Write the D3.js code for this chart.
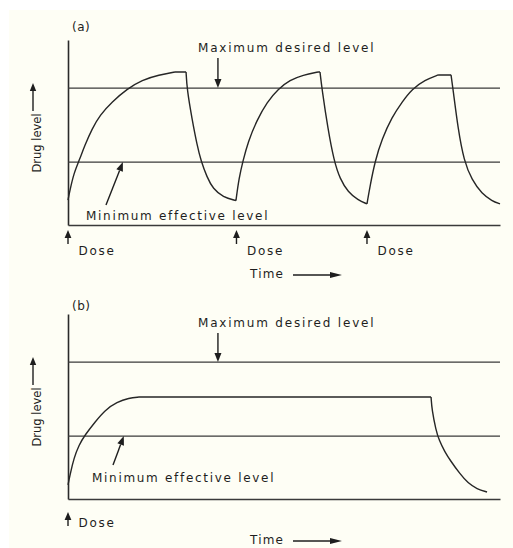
<!DOCTYPE html>
<html>
<head>
<meta charset="utf-8">
<script src="https://cdn.jsdelivr.net/npm/d3@7"></script>
<style>
  html, body { margin: 0; padding: 0; background: #fff; }
  svg { display: block; }
  text { font-family: "DejaVu Sans", Verdana, sans-serif; fill: #1e1e1e; }
</style>
</head>
<body>
<svg id="chart" width="513" height="548"></svg>
<script>
/* Drug level vs time: (a) repeated doses, (b) sustained release */

// levels (arbitrary units) of the two reference lines
var LEVEL_MIN = 3.4, LEVEL_MAX = 7.4;

// (a) three doses, [time h, level]
var dosesA = [0, 9.36, 16.61];
var curveA = [
  [0, 1.35], [0.11, 1.89], [0.33, 2.81], [0.61, 3.46], [0.94, 4.32], [1.33, 5.19],
  [1.78, 5.95], [2.44, 6.65], [3.28, 7.35], [4.11, 7.84], [5.06, 8.11], [5.94, 8.27], [6.56, 8.27],
  [6.61, 7.35], [6.89, 5.73], [7.17, 4.32], [7.39, 3.46], [7.72, 2.59], [8.06, 1.95], [8.61, 1.51], [9.33, 1.32],
  [9.5, 2.54], [9.72, 3.46], [10.0, 4.49], [10.5, 5.68], [11.06, 6.65], [11.67, 7.35], [12.33, 7.84],
  [13.06, 8.11], [13.89, 8.27], [14.0, 8.27],
  [14.11, 7.35], [14.44, 5.19], [14.78, 3.46], [15.11, 2.49], [15.56, 1.78], [16.11, 1.35], [16.61, 1.14],
  [16.78, 2.11], [17.06, 3.46], [17.44, 4.65], [18.0, 5.84], [18.56, 6.65], [19.11, 7.35], [19.83, 7.84],
  [20.56, 8.11], [21.28, 8.11],
  [21.39, 7.35], [21.67, 5.19], [22.0, 3.46], [22.44, 2.43], [23.0, 1.68], [23.56, 1.3], [24.0, 1.14]
];

// (b) one sustained-release dose
var dosesB = [0];
var curveB = [
  [0, 0.76], [0.11, 1.3], [0.33, 2.22], [0.61, 2.92], [0.94, 3.46], [1.5, 4.16], [2.06, 4.81],
  [2.72, 5.24], [3.39, 5.46], [3.94, 5.51], [20.17, 5.51],
  [20.22, 4.81], [20.44, 3.73], [20.61, 3.19], [20.94, 2.54], [21.22, 2.11], [21.78, 1.35],
  [22.22, 0.86], [22.72, 0.54], [23.28, 0.38]
];

var TXT_MAX = 'Maximum desired level', TXT_MIN = 'Minimum effective level';

var svg = d3.select('#chart');
svg.append('rect').attr('width', 513).attr('height', 548).attr('fill', '#fff');
svg.append('rect').attr('x', 9).attr('y', 10).attr('width', 504).attr('height', 538).attr('fill', '#fefef5');

var x = d3.scaleLinear().domain([0, 24]).range([68, 500]);
var y = d3.scaleLinear().domain([0, 10]).range([225, 40]);

function arrow(g, x1, y1, x2, y2, len, hw) {
  var a = Math.atan2(y2 - y1, x2 - x1), c = Math.cos(a), s = Math.sin(a);
  var bx = x2 - c * len, by = y2 - s * len;
  g.append('line').attr('x1', x1).attr('y1', y1).attr('x2', bx).attr('y2', by)
    .attr('stroke', '#1e1e1e').attr('stroke-width', 1.4);
  g.append('path')
    .attr('d', 'M' + x2 + ',' + y2 + 'L' + (bx - s * hw) + ',' + (by + c * hw) + 'L' + (bx + s * hw) + ',' + (by - c * hw) + 'Z')
    .attr('fill', '#1e1e1e');
}

// split into monotone pieces so corners stay sharp
function pieces(pts) {
  var out = [], cur = [pts[0]], dir = 0;
  for (var i = 1; i < pts.length; i++) {
    var dv = pts[i][1] - pts[i - 1][1], d = Math.abs(dv) < 0.02 ? 0 : (dv > 0 ? 1 : -1);
    if (cur.length > 1 && d !== dir) { out.push(cur); cur = [pts[i - 1]]; }
    dir = d; cur.push(pts[i]);
  }
  out.push(cur);
  return out;
}

var line = d3.line().x(function (d) { return x(d[0]); }).y(function (d) { return y(d[1]); }).curve(d3.curveBasis);

function panel(dy, tag, curve, doses, L) {
  var g = svg.append('g').attr('transform', 'translate(0,' + dy + ')');

  g.append('g').attr('transform', 'translate(' + x(0) + ',0)')
    .call(d3.axisLeft(y).tickValues([]).tickSizeOuter(0))
    .select('.domain').attr('stroke', '#2a2a2a').attr('stroke-width', 1.6);
  g.append('g').attr('transform', 'translate(0,' + y(0) + ')')
    .call(d3.axisBottom(x).tickValues([]).tickSizeOuter(0))
    .select('.domain').attr('stroke', '#3a3a3a').attr('stroke-width', 1.5);

  [LEVEL_MAX, LEVEL_MIN].forEach(function (v) {
    g.append('line').attr('x1', x(0)).attr('x2', x(24)).attr('y1', y(v)).attr('y2', y(v))
      .attr('stroke', '#3a3a3a').attr('stroke-width', 1.4);
  });

  g.append('path').attr('d', pieces(curve).map(line).join(''))
    .attr('fill', 'none').attr('stroke', '#262626').attr('stroke-width', 1.4);

  g.append('text').attr('x', 72).attr('y', L.tagY).attr('font-size', 12).attr('letter-spacing', 0.5).text(tag);

  // y label with arrow
  g.append('text').attr('transform', 'translate(41,143) rotate(-90)').attr('text-anchor', 'middle')
    .attr('font-size', 11.5).text('Drug level');
  arrow(g, 33, 111, 33, 83, 8, 3.2);

  // level annotations
  g.append('text').attr('x', 198).attr('y', L.maxY).attr('font-size', 12).attr('letter-spacing', 1.8).text(TXT_MAX);
  arrow(g, x(8.33), L.maxY + 6, x(8.33), y(LEVEL_MAX), 9, 3.5);
  g.append('text').attr('x', L.minX).attr('y', L.minY).attr('font-size', 12).attr('letter-spacing', 1.7).text(TXT_MIN);
  arrow(g, L.minArrow[0], L.minArrow[1], x(L.minArrow[2]), y(LEVEL_MIN), 9, 3.5);

  doses.forEach(function (t) {
    arrow(g, x(t), L.doseY + 14, x(t), L.doseY, 8, 3.4);
    g.append('text').attr('x', x(t) + 10.5).attr('y', L.doseTextY).attr('font-size', 12).attr('letter-spacing', 1.7).text('Dose');
  });

  g.append('text').attr('x', 250).attr('y', L.timeY).attr('font-size', 12).attr('letter-spacing', 1.2).text('Time');
  arrow(g, 293, L.timeY - 3, 342, L.timeY - 3, 12, 3);
}

panel(0, '(a)', curveA, dosesA,
  { tagY: 31, maxY: 52, minX: 86, minY: 220, minArrow: [106, 205, 3.05], doseY: 230, doseTextY: 255, timeY: 278 });
panel(274, '(b)', curveB, dosesB,
  { tagY: 36, maxY: 53, minX: 92, minY: 208, minArrow: [113, 191, 3.1], doseY: 238, doseTextY: 253, timeY: 270 });
</script>
</body>
</html>
